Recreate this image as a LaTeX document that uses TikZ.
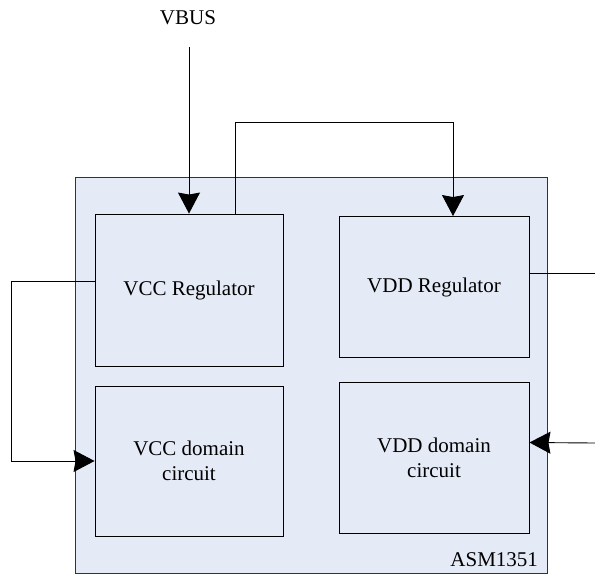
\documentclass[tikz,border=0pt]{standalone}
\usepackage{fontspec}
\setmainfont{Liberation Serif}
\usetikzlibrary{arrows.meta}
\definecolor{chipfill}{HTML}{E5EBF6}
\tikzset{
  blk/.style={draw, fill=chipfill, line width=0.9pt, minimum width=188pt, align=center, font=\fontsize{21}{25}\selectfont},
  arr/.style={-{Stealth[length=21pt,width=22pt,inset=2pt]}},
  wire/.style={line width=0.9pt}
}
\begin{document}
\begin{tikzpicture}[x=1pt, y=-1pt]
\useasboundingbox (0,0) rectangle (595,574);
\node[draw=black!80, fill=chipfill, line width=1pt, minimum width=472pt, minimum height=396pt] (chip) at (311,375){};
\node[font=\fontsize{21}{25}\selectfont, anchor=south east] (chipname) at (chip.south east) [xshift=-6pt, yshift=3pt]{ASM1351};
\node[blk, minimum height=152pt] (vccreg) at (189,290){VCC Regulator};
\node[blk, minimum height=150pt] (vccdom) at (189,461){VCC domain\\circuit};
\node[blk, minimum height=141pt, minimum width=190pt] (vddreg) at (434,287){VDD Regulator};
\node[blk, minimum height=151pt, minimum width=190pt] (vdddom) at (434,457.5){VDD domain\\circuit};
\node[font=\fontsize{21}{25}\selectfont] (vbus) at (188,18){VBUS};
\coordinate (vbusend) at (189,47);
\coordinate (vddout) at (595,273);
\coordinate (vddin) at (595,443);
\draw[wire, arr](vbusend) -- (vccreg.north);
\draw[wire, arr]([xshift=46pt]vccreg.north) -- ++(0,-91) -| ([xshift=19pt]vddreg.north);
\draw[wire]([yshift=14pt]vddreg.east) -- (vddout);
\draw[wire, arr]([yshift=9pt]vccreg.west) -- ++(-83,0) |- (vccdom.west);
\draw[wire, arr](vddin) -- ([yshift=15pt]vdddom.east);
\end{tikzpicture}
\end{document}
